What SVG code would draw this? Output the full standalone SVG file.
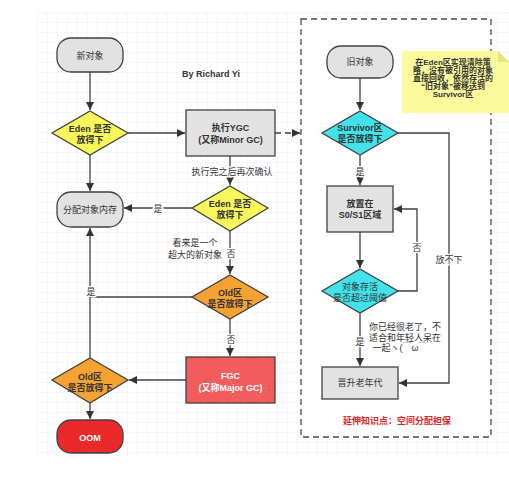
<svg xmlns="http://www.w3.org/2000/svg" width="509" height="479" viewBox="0 0 509 479">
<defs>
<pattern id="grid" patternUnits="userSpaceOnUse" x="37" y="12" width="10" height="10">
<path d="M0 0 H10 M0 0 V10" fill="none" stroke="#e4e4e4" stroke-width="0.7"/>
</pattern>
<marker id="arr" markerUnits="userSpaceOnUse" markerWidth="10" markerHeight="10" refX="8" refY="4" orient="auto">
<path d="M0 0 L8 4 L0 8 Z" fill="#333"/>
</marker>
<style>
text{font-family:"Liberation Sans","Noto Sans CJK SC",sans-serif;fill:#333;text-anchor:middle;font-size:9px}
.b{font-weight:bold}
.w{fill:#fff;font-weight:bold}
.lbl{paint-order:stroke;stroke:#fff;stroke-width:3px;stroke-linejoin:round}
.sh{stroke:#404040;stroke-width:1.3}
.gray{fill:#e2e2e2}
.yel{fill:#f7f75c}
.org{fill:#f6a233}
.cyan{fill:#42e2ea}
.edge{fill:none;stroke:#404040;stroke-width:1.3}
.dash{stroke-dasharray:6 4}
</style>
</defs>
<rect x="0" y="0" width="509" height="479" fill="#fff"/>
<rect x="37" y="12" width="472" height="446" fill="url(#grid)"/>
<rect x="301" y="19" width="190" height="418" fill="#fff" stroke="#4a4a4a" stroke-width="1.3" stroke-dasharray="6 4"/>
<text class="b" x="211" y="77">By Richard  Yi</text>
<g id="connectors">
<path class="edge" d="M90 72 V110" marker-end="url(#arr)"/>
<path class="edge" d="M128 133 H185" marker-end="url(#arr)"/>
<path class="edge dash" d="M275 133 H300" marker-end="url(#arr)"/>
<path class="edge" d="M230 156 V185" marker-end="url(#arr)"/>
<path class="edge" d="M192 208 H124" marker-end="url(#arr)"/>
<path class="edge" d="M90 155 V191" marker-end="url(#arr)"/>
<path class="edge" d="M230 231 V274" marker-end="url(#arr)"/>
<path class="edge" d="M192 297 H90"/>
<path class="edge" d="M90 358 V228" marker-end="url(#arr)"/>
<path class="edge" d="M230 319 V356" marker-end="url(#arr)"/>
<path class="edge" d="M186 380 H129" marker-end="url(#arr)"/>
<path class="edge" d="M90 403 V419" marker-end="url(#arr)"/>
<path class="edge" d="M360 78 V110" marker-end="url(#arr)"/>
<path class="edge" d="M360 155 V185" marker-end="url(#arr)"/>
<path class="edge" d="M360 232 V268" marker-end="url(#arr)"/>
<path class="edge" d="M398 291 H417 V209 H394" marker-end="url(#arr)"/>
<path class="edge" d="M398 133 H449 V383 H399" marker-end="url(#arr)"/>
<path class="edge" d="M360 313 V366" marker-end="url(#arr)"/>
<text class="lbl" x="232" y="175">执行完之后再次确认</text>
<text class="lbl" x="158" y="212">是</text>
<text class="lbl" x="231" y="257">否</text>
<text x="195" y="246">看来是一个</text>
<text x="195" y="258">超大的新对象</text>
<text class="lbl" x="91" y="295">是</text>
<text class="lbl" x="231" y="343">否</text>
<text class="lbl" x="360" y="175">是</text>
<text class="lbl" x="417" y="251">否</text>
<text class="lbl" x="449" y="263">放不下</text>
<text class="lbl" x="360" y="345">是</text>
<text x="405" y="330">你已经很老了，不</text>
<text x="405" y="340.5">适合和年轻人呆在</text>
<text x="400" y="351">一起ヽ(￣ω￣</text>
</g>
<g id="n-new">
<rect class="gray sh" x="57" y="38" width="66" height="34" rx="14"/>
<text x="90" y="58.5">新对象</text>
</g>
<g id="n-eden1">
<polygon class="yel sh" points="90,111 128,133 90,155 52,133"/>
<text class="b" x="90" y="132">Eden 是否</text>
<text class="b" x="90" y="142.5">放得下</text>
</g>
<g id="n-ygc">
<rect class="gray sh" x="186" y="110" width="89" height="46"/>
<text class="b" x="230.5" y="131">执行YGC</text>
<text class="b" x="230.5" y="142.5">(又称Minor GC)</text>
</g>
<g id="n-eden2">
<polygon class="yel sh" points="230,186 268,208 230,231 192,208"/>
<text class="b" x="230" y="207">Eden 是否</text>
<text class="b" x="230" y="218">放得下</text>
</g>
<g id="n-alloc">
<rect class="gray sh" x="57" y="192" width="66" height="35" rx="14"/>
<text x="90" y="213">分配对象内存</text>
</g>
<g id="n-old1">
<polygon class="org sh" points="230,275 268,297 230,319 192,297"/>
<text class="b" x="230" y="296">Old区</text>
<text class="b" x="230" y="306.5">是否放得下</text>
</g>
<g id="n-fgc">
<rect class="sh" fill="#f25c5c" x="186" y="357" width="89" height="46"/>
<text class="w" x="230.5" y="379">FGC</text>
<text class="w" x="230.5" y="390.5">(又称Major GC)</text>
</g>
<g id="n-old2">
<polygon class="org sh" points="90,358 128,380 90,403 52,380"/>
<text class="b" x="90" y="379.5">Old区</text>
<text class="b" x="90" y="390.5">是否放得下</text>
</g>
<g id="n-oom">
<rect class="sh" fill="#ea2a2a" x="57" y="420" width="66" height="33" rx="14"/>
<text class="w" x="90" y="440.5">OOM</text>
</g>
<g id="n-oldobj">
<rect class="gray sh" x="327" y="46" width="66" height="32" rx="14"/>
<text x="360" y="65">旧对象</text>
</g>
<g id="n-survivor">
<polygon class="cyan sh" points="360,111 398,133 360,155 322,133"/>
<text class="b" x="360" y="131">Survivor区</text>
<text class="b" x="360" y="141.5">是否放得下</text>
</g>
<g id="n-s0s1">
<rect class="gray sh" x="327" y="186" width="66" height="46"/>
<text class="b" x="360" y="206.5">放置在</text>
<text class="b" x="360" y="217.5">S0/S1区域</text>
</g>
<g id="n-age">
<polygon class="cyan sh" points="360,269 398,291 360,313 322,291"/>
<text x="360" y="290">对象存活</text>
<text x="360" y="301">是否超过阈值</text>
</g>
<g id="n-promote">
<rect class="gray sh" x="322" y="367" width="76" height="32"/>
<text x="360" y="386">晋升老年代</text>
</g>
<g id="note">
<polygon points="402,51 498,51 509,62 509,113 402,113" fill="#fbfb9e"/>
<polygon points="498,51 509,62 498,62" fill="#e6e67a"/>
<text class="b" x="453" y="64.5" style="font-size:8px">在Eden区实现清除策</text>
<text class="b" x="453" y="72.5" style="font-size:8px">略，没有被引用的对象</text>
<text class="b" x="453" y="80.5" style="font-size:8px">直接回收，依然存活的</text>
<text class="b" x="453" y="89" style="font-size:8px">“旧对象”被移送到</text>
<text class="b" x="453" y="97" style="font-size:8px">Survivor区</text>
</g>
<text class="b" x="397" y="423.5" style="fill:#e42323">延伸知识点：空间分配担保</text>
</svg>
